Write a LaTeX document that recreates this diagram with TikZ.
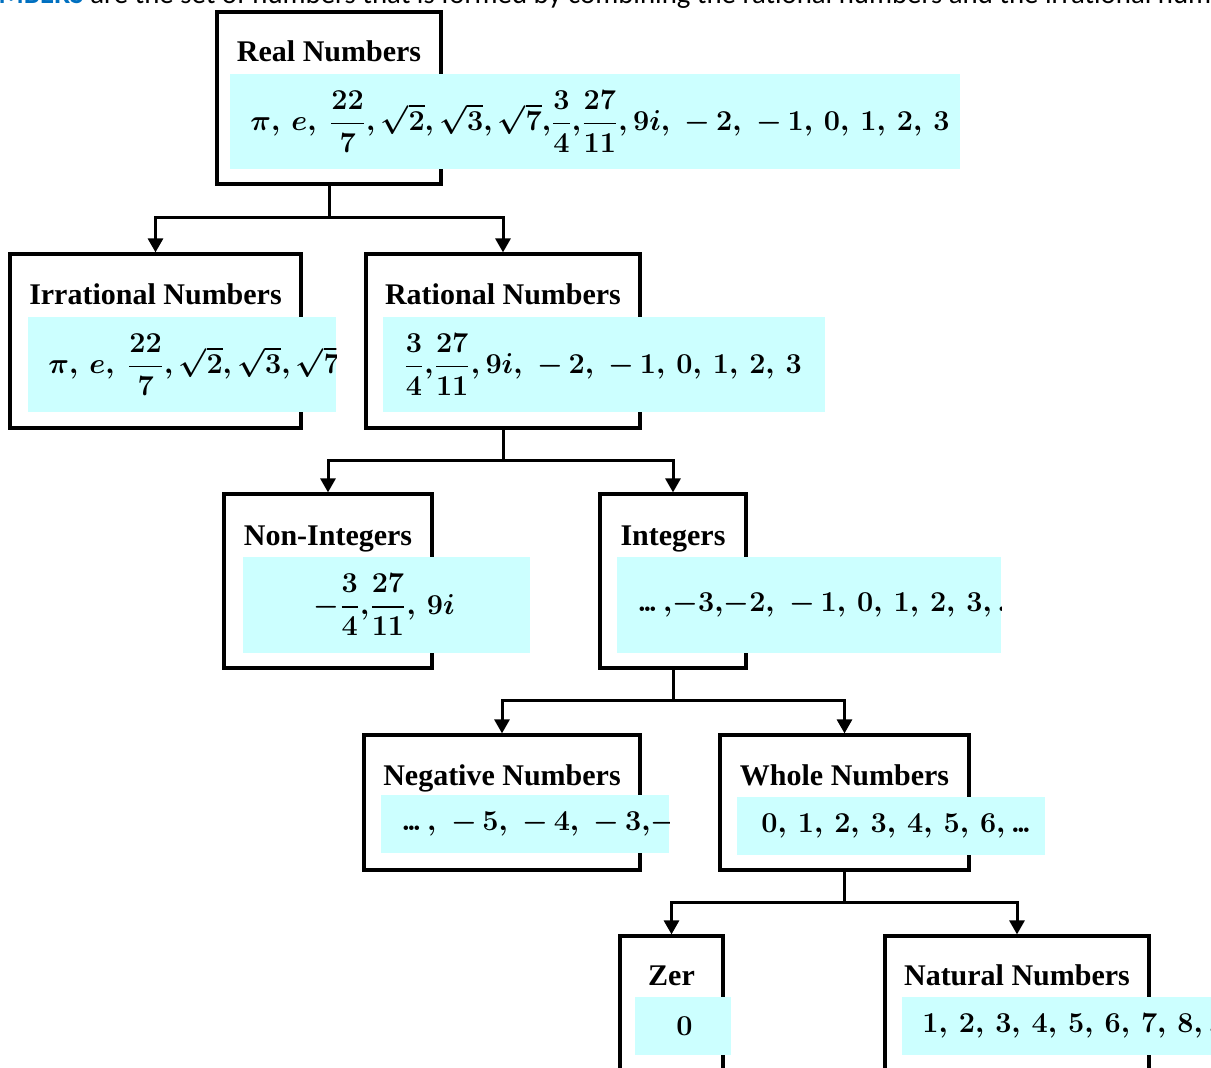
\documentclass[tikz,border=0pt]{standalone}
\usepackage{amsmath}
\usepackage{fontspec}
\setmainfont{Liberation Serif}
\newfontfamily\introfont{Carlito}
\usetikzlibrary{positioning,fit,arrows.meta}

\definecolor{setcyan}{RGB}{204,255,255}
\definecolor{introblue}{RGB}{0,112,192}

\newcommand{\tdots}{\mathinner{.\mkern-2mu.\mkern-2mu.}}

\tikzset{
  catbox/.style={draw, line width=1.6pt, inner sep=0pt},
  settitle/.style={font=\fontsize{15}{18}\selectfont\bfseries, anchor=base, inner sep=0pt},
  setpanel/.style={fill=setcyan, inner sep=0pt},
  members/.style={anchor=west, inner sep=0pt, font=\fontsize{14}{17}\selectfont\boldmath},
  trunk/.style={line width=1.5pt},
  branch/.style={trunk, -{Triangle[length=7pt,width=7.5pt]}},
}

\begin{document}
\begin{tikzpicture}[x=0.5pt,y=-0.5pt]
  \useasboundingbox (0,0) rectangle (1211,1068);
  \clip (0,0) rectangle (1211,1068);

  % line of text above the tree
  \node[anchor=base east, inner sep=0pt, text=introblue,
        font=\introfont\fontsize{14.4}{17}\selectfont\bfseries] (intro-a) at (84,4) {REAL NUMBERS};
  \node[anchor=base west, inner sep=0pt,
        font=\introfont\fontsize{14.4}{17}\selectfont] (intro-b) at (90,4)
    {are the set of numbers that is formed by combining the rational numbers and the irrational numbers.};

  % category boxes with their titles
  \foreach \n/\xa/\ya/\xb/\yb/\ty/\t in {
      real/217/12/441/184/62/{Real Numbers},
      irr/10/254/301/428/305/{Irrational Numbers},
      rat/366/254/640/428/305/{Rational Numbers},
      nonint/224/494/432/668/546/{Non-Integers},
      int/600/494/746/668/546/{Integers},
      neg/364/735/640/870/786/{Negative Numbers},
      whole/720/735/969/870/786/{Whole Numbers},
      zero/620/936/723/1120/986/{Zer},
      nat/885/936/1149/1120/986/{Natural Numbers}}
  {
    \node[catbox, fit={(\xa,\ya) (\xb,\yb)}] (\n) {};
    \node[settitle] (\n-t) at ({(\xa+\xb)/2},\ty) {\t};
  }

  % members of each set, cut off at the edge of the panel
  \foreach \n/\xa/\ya/\xb/\yb/\tx/\m in {
      real/230/74/960/169/250/{$\pi,\, e,\ \dfrac{22}{7},\sqrt{2},\sqrt{3},\sqrt{7},\!\dfrac{3}{4},\!\dfrac{27}{11}, 9i,\; -\,2,\; -\,1,\, 0,\, 1,\, 2,\, 3$},
      irr/28/317/336/412/48/{$\pi,\, e,\ \dfrac{22}{7},\sqrt{2},\sqrt{3},\sqrt{7}$},
      rat/383/317/825/412/403/{$\dfrac{3}{4},\!\dfrac{27}{11}, 9i,\; -\,2,\; -\,1,\, 0,\, 1,\, 2,\, 3$},
      nonint/243/557/530/653/313/{$-\dfrac{3}{4},\!\dfrac{27}{11},\, 9i$},
      int/617/557/1001/653/637/{$\tdots,\!-3,\!-2,\; -\,1,\, 0,\, 1,\, 2,\, 3,\tdots$},
      neg/381/795/669/853/401/{$\tdots,\; -\,5,\; -\,4,\; -\,3,\!-\,2$},
      whole/737/797/1045/855/761/{$0,\, 1,\, 2,\, 3,\, 4,\, 5,\, 6,\tdots$},
      zero/635/997/731/1055/676/{$0$},
      nat/902/997/1230/1055/922/{$1,\, 2,\, 3,\, 4,\, 5,\, 6,\, 7,\, 8,\tdots$}}
  {
    \node[setpanel, fit={(\xa,\ya) (\xb,\yb)}] (\n-p) {};
    \begin{scope}
      \clip (\n-p.south west) rectangle (\n-p.north east);
      \node[members] (\n-m) at (\tx,{(\ya+\yb)/2}) {\m};
    \end{scope}
  }

  % connectors
  \foreach \p/\jy/\a/\b in {real/218/irr/rat, rat/461/nonint/int,
                            int/701/neg/whole, whole/903/zero/nat}
  {
    \coordinate (\p-j) at (\p.south |- 0,\jy);
    \draw[trunk] (\p.south) -- (\p-j);
    \draw[branch] (\p-j) -| (\a);
    \draw[branch] (\p-j) -| (\b);
  }
\end{tikzpicture}
\end{document}
